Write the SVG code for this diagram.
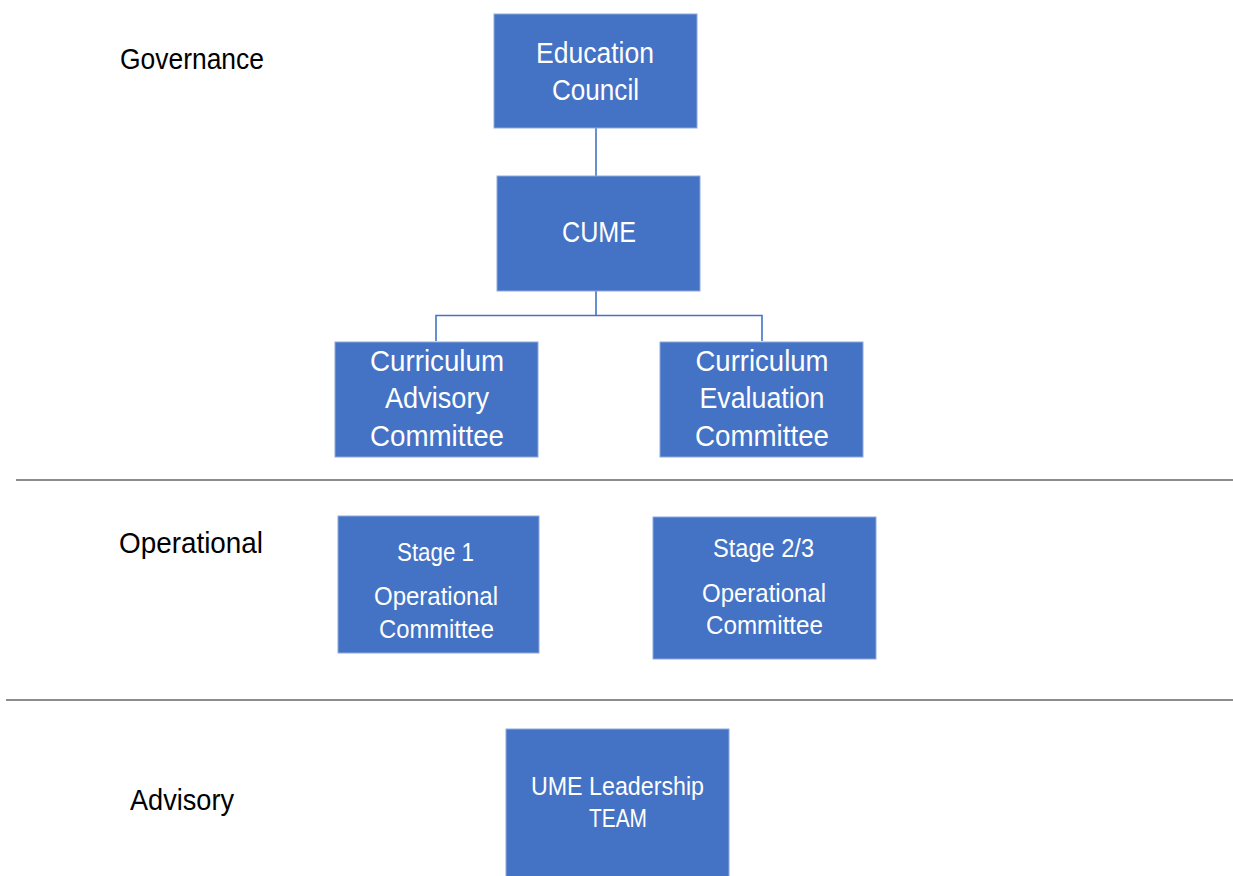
<svg xmlns="http://www.w3.org/2000/svg" width="1233" height="876" viewBox="0 0 1233 876">
<style>
.box{fill:#4472C4;stroke:#8EA9DB;stroke-width:1}
.bt{fill:#ffffff;font-family:"Liberation Sans",Arial,sans-serif;text-anchor:middle}
.big{font-size:30px}
.sm{font-size:26px}
.lbl{fill:#000000;font-family:"Liberation Sans",Arial,sans-serif;font-size:29px}
.conn{fill:none;stroke:#4472C4;stroke-width:1.6}
.sep{stroke:#8C8C8C;stroke-width:2.2}
</style>
<rect width="1233" height="876" fill="#ffffff"/>
<g id="labels">
<text class="lbl" x="120" y="69" textLength="144" lengthAdjust="spacingAndGlyphs">Governance</text>
<text class="lbl" x="119" y="553" textLength="144" lengthAdjust="spacingAndGlyphs">Operational</text>
<text class="lbl" x="130" y="810" textLength="104" lengthAdjust="spacingAndGlyphs">Advisory</text>
</g>
<g id="separators">
<line class="sep" x1="16" y1="480" x2="1233" y2="480"/>
<line class="sep" x1="6" y1="700" x2="1233" y2="700"/>
</g>
<g id="connectors">
<line class="conn" x1="596" y1="128" x2="596" y2="176"/>
<path class="conn" d="M596 291 V315.5 M436 341 V315.5 H762 V341"/>
</g>
<g id="education-council">
<rect class="box" x="494" y="14" width="203" height="114"/>
<text class="bt big" x="595" y="63" textLength="118" lengthAdjust="spacingAndGlyphs">Education</text>
<text class="bt big" x="595.5" y="100" textLength="87" lengthAdjust="spacingAndGlyphs">Council</text>
</g>
<g id="cume">
<rect class="box" x="497" y="176" width="203" height="115"/>
<text class="bt big" x="599" y="242" textLength="74" lengthAdjust="spacingAndGlyphs">CUME</text>
</g>
<g id="curriculum-advisory">
<rect class="box" x="335" y="342" width="203" height="115"/>
<text class="bt big" x="437" y="371" textLength="134" lengthAdjust="spacingAndGlyphs">Curriculum</text>
<text class="bt big" x="437" y="408" textLength="104" lengthAdjust="spacingAndGlyphs">Advisory</text>
<text class="bt big" x="437" y="446" textLength="134" lengthAdjust="spacingAndGlyphs">Committee</text>
</g>
<g id="curriculum-evaluation">
<rect class="box" x="660" y="342" width="203" height="115"/>
<text class="bt big" x="762" y="371" textLength="133" lengthAdjust="spacingAndGlyphs">Curriculum</text>
<text class="bt big" x="762" y="408" textLength="125" lengthAdjust="spacingAndGlyphs">Evaluation</text>
<text class="bt big" x="762" y="446" textLength="134" lengthAdjust="spacingAndGlyphs">Committee</text>
</g>
<g id="stage1">
<rect class="box" x="338" y="516" width="201" height="137"/>
<text class="bt sm" x="435.5" y="561" textLength="77" lengthAdjust="spacingAndGlyphs">Stage 1</text>
<text class="bt sm" x="436" y="605" textLength="124" lengthAdjust="spacingAndGlyphs">Operational</text>
<text class="bt sm" x="436.5" y="638" textLength="115" lengthAdjust="spacingAndGlyphs">Committee</text>
</g>
<g id="stage23">
<rect class="box" x="653" y="517" width="223" height="142"/>
<text class="bt sm" x="763.5" y="557" textLength="101" lengthAdjust="spacingAndGlyphs">Stage 2/3</text>
<text class="bt sm" x="764" y="602" textLength="124" lengthAdjust="spacingAndGlyphs">Operational</text>
<text class="bt sm" x="764.5" y="634" textLength="117" lengthAdjust="spacingAndGlyphs">Committee</text>
</g>
<g id="ume-leadership">
<rect class="box" x="506" y="729" width="223" height="150"/>
<text class="bt sm" x="617.5" y="795" textLength="173" lengthAdjust="spacingAndGlyphs">UME Leadership</text>
<text class="bt sm" x="618" y="827" textLength="58" lengthAdjust="spacingAndGlyphs">TEAM</text>
</g>
</svg>
